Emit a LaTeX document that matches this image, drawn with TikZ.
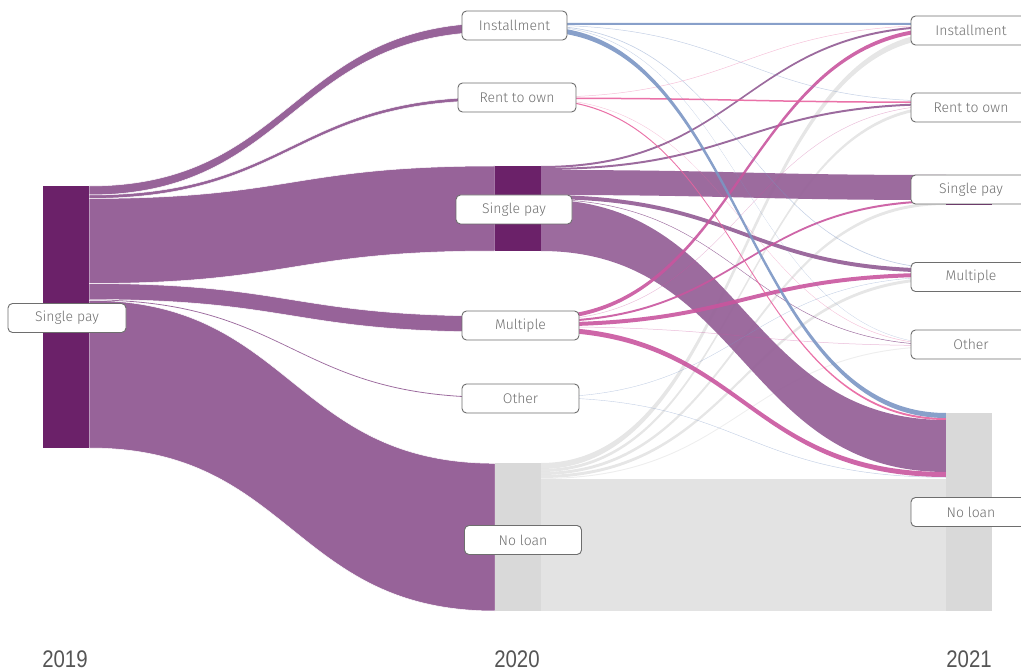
\documentclass[tikz,border=0pt]{standalone}
\usepackage{fontspec}
\newfontfamily\lblfont{Fira Sans Light}
\newfontfamily\yearfont{Liberation Sans}
\definecolor{barP}{HTML}{6B2169}
\definecolor{flP}{HTML}{976399}
\definecolor{barG}{HTML}{D9D9D9}
\definecolor{flG}{HTML}{E3E3E3}
\definecolor{flB}{HTML}{7B96C4}
\definecolor{flR}{HTML}{E8639F}
\definecolor{flM}{HTML}{C9559E}
\definecolor{lblgray}{HTML}{6E6E6E}
\definecolor{txtgray}{HTML}{707070}
\definecolor{yeargray}{HTML}{555555}
% \flow{x0}{a0}{a1}{x1}{b0}{b1}{style}
\newcommand\flow[7]{%
  \pgfmathsetmacro\xmid{(#1+#4)/2}%
  \fill[#7] (#1,#2) .. controls (\xmid,#2) and (\xmid,#5) .. (#4,#5) -- (#4,#6)
     .. controls (\xmid,#6) and (\xmid,#3) .. (#1,#3) -- cycle;}
\tikzset{
  lbl/.style={draw=lblgray, line width=0.9pt, fill=white, rounded corners=4.5pt,
    minimum height=29pt, inner sep=0pt, text=txtgray,
    font=\lblfont\fontsize{14}{14}\selectfont},
  yr/.style={text=yeargray, inner sep=0pt, font=\yearfont\fontsize{24}{24}\selectfont},
  fP/.style={fill=flP, fill opacity=0.95},
  fPs/.style={fill=flP, draw=white, line width=0.5pt},
  fB/.style={fill=flB, fill opacity=0.9},
  fBt/.style={fill=flB, fill opacity=0.45},
  fR/.style={fill=flR, fill opacity=0.9},
  fRt/.style={fill=flR, fill opacity=0.4},
  fM/.style={fill=flM, fill opacity=0.9},
  fMt/.style={fill=flM, fill opacity=0.4},
  fG/.style={fill=flG, fill opacity=0.9},
  fGt/.style={fill=flG, fill opacity=0.6},
}
\begin{document}
\begin{tikzpicture}[x=1pt,y=-1pt]
\useasboundingbox (0,0) rectangle (1021,671);
\clip (0,0) rectangle (1021,671);
% ---------- 2019 -> 2020 ----------
\flow{89}{186}{195}{495}{23}{32}{fPs}
\flow{89}{195}{198.5}{495}{97}{100.5}{fPs}
\flow{89}{198.5}{283.5}{495}{166}{251}{fPs}
\flow{89}{283.5}{299.5}{495}{316}{332}{fPs}
\flow{89}{299.5}{300.3}{495}{397}{397.8}{fP}
\flow{89}{300.3}{448}{495}{463.3}{611}{fPs}
% ---------- 2020 -> 2021 ----------
% No loan -> No loan (straight block)
\fill[flG] (541,479) rectangle (946,611);
% No loan (curved)
\flow{541}{463}{469}{946}{32}{38}{fG}
\flow{541}{469}{472}{946}{105.5}{108.5}{fG}
\flow{541}{472}{475}{946}{202}{205}{fG}
\flow{541}{475}{478}{946}{277.2}{280.2}{fG}
\flow{541}{478}{479}{946}{345.8}{346.8}{fGt}
% Single pay
\flow{541}{170}{195}{946}{175}{200}{fP}
\flow{541}{199.5}{251}{946}{420}{472}{fP}
\flow{541}{166}{168}{946}{25.5}{27.5}{fP}
\flow{541}{168}{170}{946}{103}{105}{fP}
\flow{541}{195}{199}{946}{268.7}{272.7}{fP}
\flow{541}{199}{199.5}{946}{344.8}{345.3}{fP}
% Multiple
\flow{541}{316}{320}{946}{27.5}{31.5}{fM}
\flow{541}{320}{320.5}{946}{105}{105.5}{fMt}
\flow{541}{320.5}{322.5}{946}{200}{202}{fM}
\flow{541}{322.5}{326.5}{946}{272.7}{276.7}{fM}
\flow{541}{326.5}{327}{946}{345.3}{345.8}{fMt}
\flow{541}{327}{332}{946}{472}{477}{fM}
% Rent to own
\flow{541}{97}{97.5}{946}{25}{25.5}{fRt}
\flow{541}{97.5}{99}{946}{101.5}{103}{fR}
\flow{541}{99}{99.4}{946}{344.3}{344.8}{fRt}
\flow{541}{99.4}{100.5}{946}{418}{420}{fR}
% Installment
\flow{541}{23}{25}{946}{23}{25}{fB}
\flow{541}{25}{25.5}{946}{101}{101.5}{fBt}
\flow{541}{25.5}{26.2}{946}{268}{268.7}{fBt}
\flow{541}{26.2}{26.6}{946}{344}{344.3}{fBt}
\flow{541}{27}{32}{946}{413}{418}{fB}
% Other
\flow{541}{397}{397.4}{946}{276.7}{277.1}{fBt}
\flow{541}{397.4}{397.8}{946}{477}{477.5}{fBt}
% ---------- bars ----------
\fill[barP] (43,186) rectangle (89,448);
\fill[barP] (495,23) rectangle (541,32);
\fill[barP] (495,97) rectangle (541,100.5);
\fill[barP] (495,166) rectangle (541,251);
\fill[barP] (495,316) rectangle (541,332);
\fill[barP] (495,397) rectangle (541,398);
\fill[barG] (495,463) rectangle (541,611);
\fill[barP] (946,23) rectangle (992,38);
\fill[barP] (946,101) rectangle (992,108.5);
\fill[barP] (946,175) rectangle (992,205.5);
\fill[barP] (946,268) rectangle (992,280);
\fill[barP] (946,344) rectangle (992,347);
\fill[barG] (946,413) rectangle (992,611);
% ---------- labels ----------
\node[lbl, minimum width=118pt] (sp19) at (67,318) {Single pay};
\node[lbl, minimum width=105pt] (in20) at (514.5,25.5) {Installment};
\node[lbl, minimum width=118pt] (rt20) at (517,97.5) {Rent to own};
\node[lbl, minimum width=116pt] (sp20) at (514,209.5) {Single pay};
\node[lbl, minimum width=117pt] (mu20) at (520.5,325.5) {Multiple};
\node[lbl, minimum width=117pt] (ot20) at (520.5,398.5) {Other};
\node[lbl, minimum width=117pt] (nl20) at (523,540) {No loan};
\node[lbl, minimum width=120pt] (in21) at (971,30.5) {Installment};
\node[lbl, minimum width=120pt] (rt21) at (971,107.5) {Rent to own};
\node[lbl, minimum width=120pt] (sp21) at (971,189.5) {Single pay};
\node[lbl, minimum width=120pt] (mu21) at (971,277) {Multiple};
\node[lbl, minimum width=120pt] (ot21) at (971,344.5) {Other};
\node[lbl, minimum width=120pt] (nl21) at (971,512) {No loan};
% ---------- years ----------
\node[yr] (y19) at (65,659) {\scalebox{0.85}[1]{2019}};
\node[yr] (y20) at (517,659) {\scalebox{0.85}[1]{2020}};
\node[yr] (y21) at (969,659) {\scalebox{0.85}[1]{2021}};
\end{tikzpicture}
\end{document}
